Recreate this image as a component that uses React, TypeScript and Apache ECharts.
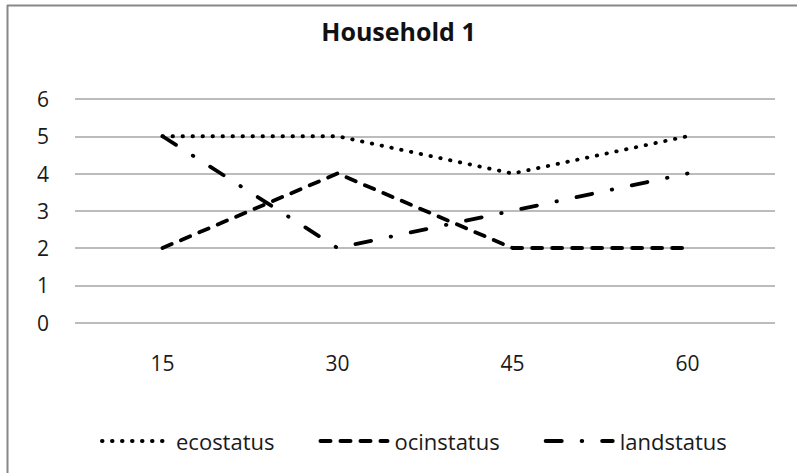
import React, { useEffect, useRef } from "react";
import * as echarts from "echarts";

const categories = ["15", "30", "45", "60"];
const ecostatus = [5, 5, 4, 5];
const ocinstatus = [2, 4, 2, 2];
const landstatus = [5, 2, 3, 4];
const yTicks = { min: 0, max: 6, interval: 1 };

const FONT = "'Open Sans', sans-serif";

export default function App() {
  const ref = useRef<HTMLDivElement>(null);

  useEffect(() => {
    if (!ref.current) return;
    const chart = echarts.init(ref.current, null, { renderer: "svg" });
    const lineBase = { width: 3.8, color: "#000", cap: "round" as const, join: "round" as const };
    chart.setOption({
      animation: false,
      backgroundColor: "#fff",
      title: {
        text: "Household 1",
        left: "center",
        top: 13,
        textStyle: { fontFamily: FONT, fontSize: 25, fontWeight: "bold", color: "#111" },
      },
      grid: { left: 75, right: 22, top: 99, bottom: 150.5, containLabel: false },
      xAxis: {
        type: "category",
        data: categories,
        axisLine: { show: false },
        axisTick: { show: false },
        axisLabel: { fontFamily: FONT, fontSize: 21, color: "#1a1a1a", margin: 30 },
      },
      yAxis: {
        type: "value",
        min: yTicks.min,
        max: yTicks.max,
        interval: yTicks.interval,
        axisLine: { show: false },
        axisTick: { show: false },
        axisLabel: { fontFamily: FONT, fontSize: 21, color: "#1a1a1a", margin: 26 },
        splitLine: { lineStyle: { color: "#a6a6a6", width: 1.5 } },
      },
      legend: {
        top: 422,
        left: 95,
        itemWidth: 67,
        itemHeight: 14,
        itemGap: 44,
        itemStyle: { color: "transparent", borderColor: "transparent", borderWidth: 0 },
        lineStyle: { width: 4 },
        textStyle: { fontFamily: FONT, fontSize: 22, color: "#1a1a1a", lineHeight: 28, padding: [0, 0, 0, 2] },
        data: ["ecostatus", "ocinstatus", "landstatus"],
      },
      series: [
        {
          name: "ecostatus",
          type: "line",
          data: ecostatus,
          symbol: "none",
          itemStyle: { color: "#000" },
          lineStyle: { ...lineBase, type: [0.5, 9.5] },
        },
        {
          name: "ocinstatus",
          type: "line",
          data: ocinstatus,
          symbol: "none",
          itemStyle: { color: "#000" },
          lineStyle: { ...lineBase, type: [10, 10] },
        },
        {
          name: "landstatus",
          type: "line",
          data: landstatus,
          symbol: "none",
          itemStyle: { color: "#000" },
          lineStyle: { ...lineBase, type: [16, 20, 0.5, 20] },
        },
      ],
      graphic: [
        { type: "line", shape: { x1: 7, y1: 5.5, x2: 797, y2: 5.5 }, style: { stroke: "#888", lineWidth: 2 } },
        { type: "line", shape: { x1: 7.5, y1: 5, x2: 7.5, y2: 473 }, style: { stroke: "#888", lineWidth: 2 } },
      ],
    });
    return () => chart.dispose();
  }, []);

  return <div ref={ref} style={{ width: 797, height: 473, position: "absolute", left: 0, top: 0 }} />;
}
